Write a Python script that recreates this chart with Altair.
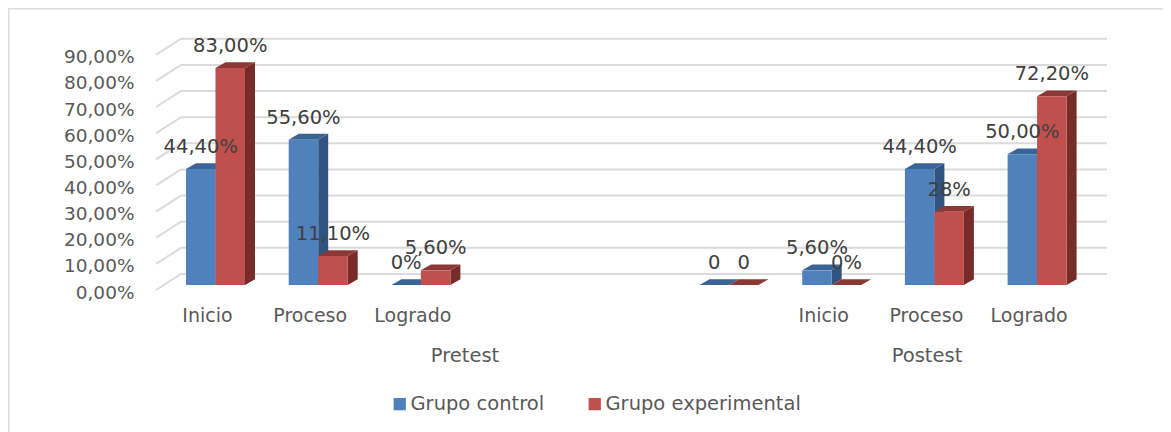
import altair as alt
import pandas as pd

# ---- values ----
slots = [0, 1, 2, 5, 6, 7, 8]
control = [44.4, 55.6, 0, 0, 5.6, 44.4, 50.0]
experimental = [83.0, 11.1, 5.6, 0, 0, 28.0, 72.2]
control_labels = ["44,40%", "55,60%", "0%", "0", "5,60%", "44,40%", "50,00%"]
experimental_labels = ["83,00%", "11,10%", "5,60%", "0", "0%", "28%", "72,20%"]
series_names = ["Grupo control", "Grupo experimental"]
periods = ["Pretest", "Postest"]
ticks = [0, 10, 20, 30, 40, 50, 60, 70, 80, 90]

# ---- layout ----
SLOT_PX = 102.7
UNIT_PX = 2.614
LEFT, RIGHT, FRONT, TOP = 156, 1107, 290, 290 - 90 * UNIT_PX
CENTER0 = 215.5
PAGE_W, PAGE_H = 1155, 424
FONT = "DejaVu Sans"


def kx(px):
    return (px - CENTER0) / SLOT_PX


def vy(px):
    return (FRONT - px) / UNIT_PX


BAR_W = 29.5 / SLOT_PX
BASE = (FRONT - 285) / UNIT_PX
DX, DY = 10 / SLOT_PX, 5.8 / UNIT_PX
WALL_DX, WALL_DY = 25 / SLOT_PX, 16 / UNIT_PX

x_scale = alt.Scale(domain=[kx(LEFT), kx(RIGHT)], nice=False, zero=False)
y_scale = alt.Scale(domain=[0, 90], nice=False, zero=False)
y_axis_expr = "replace(format(datum.value, '.2f'), '.', ',') + '%'"
x_expr = "{0:'Inicio',1:'Proceso',2:'Logrado',6:'Inicio',7:'Proceso',8:'Logrado'}[datum.value]"
X = alt.X("x:Q", scale=x_scale, title=None, axis=alt.Axis(
    values=[0, 1, 2, 6, 7, 8], labelExpr=x_expr, grid=False, domain=False, ticks=False,
    labelFontSize=19, labelColor="#595959", labelFont=FONT, labelPadding=16,
    labelOffset=-8.5, labelFlush=False, labelOverlap=False))
Y = alt.Y("y:Q", scale=y_scale, title=None, axis=alt.Axis(
    values=ticks, labelExpr=y_axis_expr, grid=False, domain=False, ticks=False,
    labelFontSize=18.5, labelColor="#595959", labelFont=FONT, labelPadding=22,
    labelOffset=2, labelOverlap=False))

# ---- frame: a line down the left and along the top ----
frame = pd.DataFrame({"x": [kx(8.5), kx(8.5), kx(1163)], "y": [vy(440), vy(8.5), vy(8.5)], "o": [0, 1, 2]})
frame_layer = alt.Chart(frame).mark_line(color="#dcdcdc", strokeWidth=2).encode(x=X, y=Y, order="o:Q")

# ---- back wall grid ----
grid_rows = []
for t in ticks:
    for px, up in [(kx(LEFT), 0), (kx(LEFT) + WALL_DX, WALL_DY), (kx(RIGHT), WALL_DY)]:
        grid_rows.append({"tick": t, "x": px, "y": t + up, "o": len(grid_rows)})
grid_layer = alt.Chart(pd.DataFrame(grid_rows)).mark_line(color="#dbdbdb", strokeWidth=2).encode(
    x=X, y=Y, detail="tick:N", order="o:Q"
)


# ---- 3D bars ----
def faces(values, offset):
    side, top, front = [], [], []
    for slot, v in zip(slots, values):
        x0 = slot + offset
        x1 = x0 + BAR_W
        y0 = BASE
        y1 = BASE + v
        gid = f"{slot}"
        side += [
            {"g": gid, "x": x1, "y": y1, "y2": y0},
            {"g": gid, "x": x1 + DX, "y": y1 + DY, "y2": y0 + DY},
        ]
        top += [
            {"g": gid, "x": x0, "y": y1, "y2": y1},
            {"g": gid, "x": x0 + DX, "y": y1 + DY, "y2": y1},
            {"g": gid, "x": x1, "y": y1 + DY, "y2": y1},
            {"g": gid, "x": x1 + DX, "y": y1 + DY, "y2": y1 + DY},
        ]
        front.append({"x": x0, "x2": x1, "y": y1, "y2": y0})
    return pd.DataFrame(side), pd.DataFrame(top), pd.DataFrame(front)


color_scale = alt.Scale(domain=series_names, range=["#4f81bd", "#c0504d"])
legend = alt.Legend(
    title=None, orient="none", legendX=234, legendY=394 - TOP, direction="horizontal",
    symbolType="square", symbolSize=150, symbolStrokeWidth=0, labelFontSize=19.5, labelColor="#595959",
    labelFont=FONT, columnPadding=40, labelOffset=1, labelLimit=260,
)

layers = [frame_layer, grid_layer]
for name, vals, off, side_c, top_c in [
    (series_names[0], control, -BAR_W, "#31547f", "#3a6396"),
    (series_names[1], experimental, 0.0, "#772c2a", "#8c3836"),
]:
    s, t, f = faces(vals, off)
    layers.append(alt.Chart(s).mark_area(color=side_c).encode(x=X, y=Y, y2="y2:Q", detail="g:N"))
    layers.append(alt.Chart(t).mark_area(color=top_c).encode(x=X, y=Y, y2="y2:Q", detail="g:N"))
    f["series"] = name
    layers.append(alt.Chart(f).mark_rect().encode(
        x=X, x2="x2:Q", y=Y, y2="y2:Q",
        color=alt.Color("series:N", scale=color_scale, legend=legend),
    ))

# ---- data labels ----
label_rows = []
for slot, v, lab in zip(slots, control, control_labels):
    label_rows.append({"x": slot - BAR_W / 2, "y": BASE + v, "t": lab})
for slot, v, lab in zip(slots, experimental, experimental_labels):
    label_rows.append({"x": slot + BAR_W / 2, "y": BASE + v, "t": lab})
layers.append(alt.Chart(pd.DataFrame(label_rows)).mark_text(
    fontSize=19.5, color="#404040", font=FONT, dy=-22, align="center", baseline="middle"
).encode(x=X, y=Y, text="t:N"))

# ---- period labels ----
period_df = pd.DataFrame({"x": [kx(465), kx(927)], "y": [vy(356), vy(356)], "t": periods})
layers.append(alt.Chart(period_df).mark_text(
    fontSize=19.5, color="#595959", font=FONT, align="center", baseline="middle"
).encode(x=X, y=Y, text="t:N"))

chart = alt.layer(*layers).resolve_scale(color="shared").properties(
    width=RIGHT - LEFT,
    height=FRONT - TOP,
    padding={"left": LEFT - 8, "top": TOP - 8, "right": PAGE_W - (RIGHT - 8), "bottom": PAGE_H - (FRONT - 8)},
    autosize=alt.AutoSizeParams(type="none"),
    background="white",
).configure_view(stroke=None)

chart.save("out.html", embed_options={"renderer": "svg", "actions": False})
